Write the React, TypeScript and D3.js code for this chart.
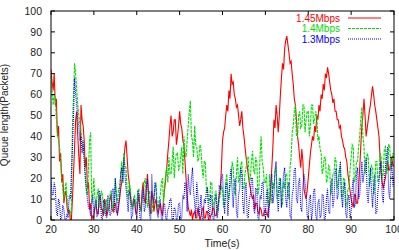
import * as d3 from "d3";

// queue length samples every 0.25 s from t=20 to t=100 (one row = 5 s)
const T0 = 20, DT = 0.25;

const red145 = [
  72, 66, 62, 70, 55, 58, 40, 45, 28, 32, 18, 22, 8, 12, 14, 6, 3, 5, 0, 0,
  10, 22, 35, 48, 52, 40, 30, 22, 55, 48, 45, 38, 25, 30, 15, 18, 5, 8, 0, 2,
  2, 6, 8, 3, 3, 10, 12, 5, 5, 2, 10, 8, 2, 4, 6, 10, 12, 5, 4, 8,
  8, 4, 3, 6, 10, 15, 18, 24, 28, 35, 38, 30, 22, 18, 12, 8, 6, 10, 9, 4,
  3, 8, 12, 6, 5, 14, 18, 10, 8, 15, 22, 12, 6, 3, 14, 10, 4, 8, 10, 5,
  3, 6, 8, 4, 2, 10, 15, 20, 25, 32, 38, 45, 50, 40, 42, 48, 48, 36, 40, 45,
  52, 46, 44, 38, 36, 28, 20, 12, 6, 4, 2, 5, 0, 3, 4, 1, 1, 6, 3, 0,
  2, 5, 6, 1, 1, 4, 4, 0, 0, 2, 3, 6, 5, 2, 2, 5, 8, 12, 15, 25,
  38, 42, 44, 50, 55, 52, 62, 58, 70, 65, 66, 60, 58, 54, 55, 50, 45, 48, 52, 44,
  40, 35, 30, 26, 22, 18, 15, 12, 10, 12, 5, 8, 8, 4, 3, 6, 5, 2, 2, 4,
  5, 3, 2, 6, 8, 15, 25, 35, 48, 44, 55, 50, 42, 50, 60, 68, 75, 72, 82, 86,
  88, 84, 80, 75, 76, 70, 65, 58, 55, 48, 40, 36, 30, 25, 34, 28, 15, 12, 10, 14,
  20, 26, 32, 36, 40, 38, 45, 42, 50, 48, 55, 52, 60, 58, 65, 62, 70, 68, 73, 70,
  66, 62, 60, 56, 58, 52, 52, 48, 48, 44, 45, 40, 38, 35, 34, 30, 28, 22, 18, 14,
  10, 8, 6, 12, 12, 8, 8, 15, 25, 35, 45, 50, 58, 50, 40, 44, 48, 52, 55, 60,
  64, 60, 55, 52, 48, 44, 40, 30, 22, 18, 15, 18, 20, 25, 28, 24, 24, 28, 30, 26,
  26,
];

const green14 = [
  70, 62, 55, 60, 58, 48, 42, 38, 35, 28, 20, 15, 10, 14, 18, 10, 5, 3, 2, 6,
  45, 60, 75, 70, 62, 55, 50, 46, 42, 38, 35, 30, 22, 15, 12, 25, 38, 42, 8, 12,
  20, 10, 5, 12, 15, 6, 8, 14, 12, 5, 3, 8, 10, 4, 6, 12, 14, 8, 5, 10,
  20, 12, 8, 15, 15, 22, 28, 18, 32, 26, 25, 14, 10, 18, 15, 8, 5, 10, 12, 6,
  8, 14, 15, 5, 4, 10, 12, 18, 20, 10, 6, 12, 14, 5, 3, 8, 10, 16, 18, 8,
  5, 10, 12, 18, 20, 8, 15, 22, 25, 18, 30, 22, 22, 28, 35, 20, 28, 32, 32, 24,
  25, 30, 35, 22, 40, 32, 30, 38, 45, 52, 57, 40, 38, 30, 45, 36, 35, 28, 30, 36,
  33, 25, 20, 28, 28, 14, 15, 8, 10, 18, 18, 6, 8, 12, 14, 4, 5, 10, 12, 16,
  15, 6, 8, 18, 22, 12, 10, 16, 18, 28, 25, 14, 12, 22, 30, 18, 20, 26, 28, 15,
  15, 22, 25, 30, 30, 18, 20, 28, 33, 24, 22, 30, 28, 12, 15, 30, 40, 28, 25, 18,
  18, 22, 10, 6, 22, 14, 8, 18, 15, 24, 25, 10, 12, 20, 20, 6, 8, 18, 15, 22,
  22, 12, 10, 25, 30, 42, 45, 52, 55, 40, 40, 50, 52, 44, 45, 55, 55, 42, 48, 52,
  52, 40, 45, 55, 55, 46, 48, 52, 50, 38, 40, 34, 32, 22, 25, 30, 30, 18, 20, 26,
  25, 12, 15, 22, 22, 30, 28, 15, 18, 24, 25, 10, 12, 20, 20, 6, 8, 15, 15, 24,
  30, 36, 35, 18, 20, 28, 28, 35, 40, 48, 54, 40, 35, 22, 25, 32, 30, 16, 20, 26,
  25, 12, 15, 28, 28, 18, 20, 32, 30, 20, 22, 34, 35, 22, 25, 36, 36, 24, 28, 32,
  30,
];

const blue13 = [
  20, 12, 12, 18, 15, 4, 2, 10, 8, 0, 1, 7, 5, 0, 0, 3, 1, 12, 10, 22,
  35, 50, 68, 60, 55, 48, 45, 38, 40, 32, 38, 28, 20, 14, 10, 6, 5, 2, 8, 12,
  1, 8, 10, 2, 3, 14, 12, 1, 0, 9, 8, 2, 1, 12, 10, 2, 3, 14, 15, 4,
  20, 10, 2, 8, 12, 22, 25, 18, 30, 22, 15, 10, 4, 14, 12, 1, 2, 9, 10, 3,
  2, 14, 12, 1, 0, 10, 15, 4, 6, 16, 20, 10, 2, 0, 22, 12, 8, 18, 15, 3,
  1, 8, 10, 0, 0, 7, 8, 1, 0, 5, 6, 10, 10, 0, 0, 6, 5, 0, 1, 8,
  8, 0, 1, 12, 10, 18, 15, 4, 22, 15, 12, 20, 25, 14, 8, 2, 18, 12, 2, 6,
  12, 1, 0, 10, 8, 14, 15, 3, 2, 12, 10, 1, 0, 9, 12, 1, 4, 16, 15, 20,
  22, 10, 3, 16, 18, 2, 12, 20, 25, 14, 6, 18, 20, 4, 1, 12, 15, 25, 22, 8,
  3, 14, 18, 2, 1, 10, 12, 20, 20, 6, 3, 15, 15, 1, 0, 12, 10, 18, 18, 2,
  2, 12, 15, 1, 8, 18, 22, 8, 12, 24, 28, 10, 4, 16, 20, 6, 15, 22, 25, 10,
  6, 16, 18, 2, 1, 12, 15, 24, 25, 10, 8, 18, 20, 6, 4, 16, 22, 18, 12, 2,
  1, 10, 12, 0, 4, 14, 15, 2, 0, 8, 10, 1, 2, 12, 12, 0, 1, 10, 15, 4,
  3, 16, 20, 6, 10, 22, 25, 10, 12, 24, 28, 12, 6, 15, 18, 3, 1, 10, 12, 1,
  4, 15, 20, 6, 8, 22, 25, 10, 12, 20, 28, 18, 22, 26, 30, 12, 8, 18, 25, 14,
  6, 16, 22, 3, 4, 14, 18, 25, 28, 12, 8, 20, 25, 30, 35, 14, 10, 22, 28, 16,
  20,
];

const seriesLabels = ["1.45Mbps", "1.4Mbps", "1.3Mbps"];
const seriesColors = ["#ff0000", "#00dd00", "#0000ff"];
const seriesDash = ["none", "3,1", "1,1"];
const xTicks = [20, 30, 40, 50, 60, 70, 80, 90, 100];
const yTicks = [0, 10, 20, 30, 40, 50, 60, 70, 80, 90, 100];

const W = 399, H = 250;
const M = { left: 51, right: 394, top: 11, bottom: 220 };
const FONT = "Liberation Sans, Arial, sans-serif";

export default function App() {
  const x = d3.scaleLinear().domain([20, 100]).range([M.left, M.right]);
  const y = d3.scaleLinear().domain([0, 100]).range([M.bottom, M.top]);
  const line = d3.line<number>()
    .x((_, i) => x(T0 + i * DT))
    .y((v) => y(v));
  const all = [red145, green14, blue13];

  return (
    <div style={{ position: "fixed", left: 0, top: 0, background: "#fff" }}>
      <svg width={W} height={H} style={{ display: "block" }}>
        <defs>
          <clipPath id="plot">
            <rect x={M.left} y={M.top} width={M.right - M.left} height={M.bottom - M.top} />
          </clipPath>
        </defs>
        <g clipPath="url(#plot)">
          {all.map((d, k) => (
            <path key={k} d={line(d) ?? ""} fill="none" stroke={seriesColors[k]}
                  strokeWidth={1.1} strokeDasharray={seriesDash[k]} />
          ))}
        </g>
        <rect x={M.left} y={M.top} width={M.right - M.left} height={M.bottom - M.top}
              fill="none" stroke="#000" strokeWidth={1} />
        {xTicks.map((t) => (
          <g key={t}>
            <line x1={x(t)} x2={x(t)} y1={M.bottom} y2={M.bottom - 4} stroke="#000" />
            <line x1={x(t)} x2={x(t)} y1={M.top} y2={M.top + 4} stroke="#000" />
            <text x={x(t)} y={M.bottom + 13} textAnchor="middle" fontFamily={FONT}
                  fontSize={10.5} fill="#222">{t}</text>
          </g>
        ))}
        {yTicks.map((t) => (
          <g key={t}>
            <line x1={M.left} x2={M.left + 4} y1={y(t)} y2={y(t)} stroke="#000" />
            <line x1={M.right} x2={M.right - 4} y1={y(t)} y2={y(t)} stroke="#000" />
            <text x={42} y={y(t)} dy="0.35em" textAnchor="end" fontFamily={FONT}
                  fontSize={10.5} fill="#222">{t}</text>
          </g>
        ))}
        <text x={222} y={247} textAnchor="middle" fontFamily={FONT} fontSize={10.5}
              fill="#222">Time(s)</text>
        <text transform="translate(8,115) rotate(-90)" textAnchor="middle" fontFamily={FONT}
              fontSize={10} fill="#222">Queue length(Packets)</text>
        {seriesLabels.map((s, k) => (
          <g key={s}>
            <text x={340} y={18 + k * 10.5} dy="0.35em" textAnchor="end" fontFamily={FONT}
                  fontSize={10} fill={seriesColors[k]}>{s}</text>
            <line x1={348} x2={381} y1={18 + k * 10.5} y2={18 + k * 10.5}
                  stroke={seriesColors[k]} strokeDasharray={seriesDash[k]} />
          </g>
        ))}
      </svg>
    </div>
  );
}
